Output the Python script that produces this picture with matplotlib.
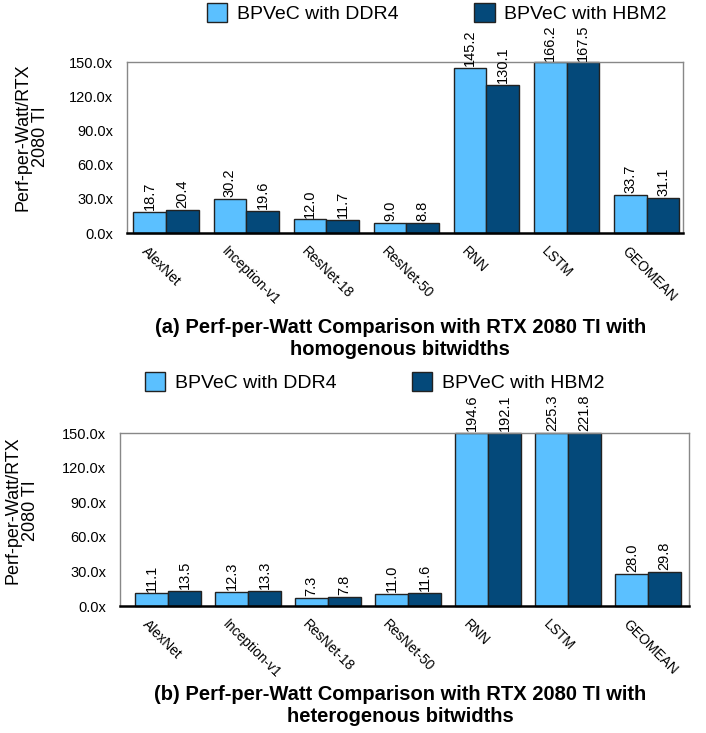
import numpy as np
import matplotlib
matplotlib.use('Agg')
import matplotlib.pyplot as plt
from matplotlib.patches import Patch

plt.rcParams['font.family'] = ['Liberation Sans', 'DejaVu Sans']

##DATA##
models = ['AlexNet', 'Inception-v1', 'ResNet-18', 'ResNet-50', 'RNN', 'LSTM', 'GEOMEAN']
series = ['BPVeC with DDR4', 'BPVeC with HBM2']

homo_ddr4 = [18.7, 30.2, 12.0, 9.0, 145.2, 166.2, 33.7]
homo_hbm2 = [20.4, 19.6, 11.7, 8.8, 130.1, 167.5, 31.1]

hetero_ddr4 = [11.1, 12.3, 7.3, 11.0, 194.6, 225.3, 28.0]
hetero_hbm2 = [13.5, 13.3, 7.8, 11.6, 192.1, 221.8, 29.8]

yticks = [0, 30, 60, 90, 120, 150]
ymax = 150

light = '#5BC0FF'
dark = '#04497A'

fig = plt.figure(figsize=(7.06, 7.33), dpi=100)


def draw_panel(ax, ddr4, hbm2, xlim):
    x = np.arange(len(models))
    w = 0.41
    for vals, off, col in [(ddr4, -w / 2, light), (hbm2, w / 2, dark)]:
        h = np.minimum(vals, ymax)
        ax.bar(x + off, h, w, color=col, edgecolor='#222222', linewidth=1.0, clip_on=False)
        for xi, hi, v in zip(x + off, h, vals):
            ax.text(xi, hi + 1.5, '%.1f' % v, rotation=90, ha='center', va='bottom',
                    fontsize=10.5, clip_on=False)
    ax.set_ylim(0, ymax)
    ax.set_xlim(*xlim)
    ax.set_yticks(yticks)
    ax.set_yticklabels(['%.1fx' % t for t in yticks], fontsize=10.5)
    ax.set_xticks(x - 0.225)
    ax.set_xticklabels(models, rotation=-45, ha='left', va='top', rotation_mode='anchor', fontsize=10)
    ax.tick_params(axis='both', length=0)
    ax.tick_params(axis='y', pad=10)
    ax.tick_params(axis='x', pad=8)
    for s in ['top', 'right', 'left']:
        ax.spines[s].set_color('#888888')
        ax.spines[s].set_linewidth(1.0)
    ax.spines['bottom'].set_color('black')
    ax.spines['bottom'].set_linewidth(1.8)


handles = [Patch(facecolor=light, edgecolor='#222222'), Patch(facecolor=dark, edgecolor='#222222')]
leg_kw = dict(loc='center', ncol=2, frameon=False, fontsize=14, columnspacing=3.9,
              handlelength=1.03, handleheight=1.1, handletextpad=0.5)

# (a) homogenous
ax1 = fig.add_axes([0.180, 0.682, 0.788, 0.233])
draw_panel(ax1, homo_ddr4, homo_hbm2, (-0.49, 6.46))
fig.text(0.045, 0.813, 'Perf-per-Watt/RTX\n2080 TI', rotation=90, ha='center', va='center',
         fontsize=13, linespacing=1.05)
fig.legend(handles, series, bbox_to_anchor=(0.619, 0.982), **leg_kw)
fig.text(0.567, 0.538, '(a) Perf-per-Watt Comparison with RTX 2080 TI with\nhomogenous bitwidths',
         ha='center', va='center', fontsize=14.5, fontweight='bold', linespacing=1.2)

# (b) heterogenous
ax2 = fig.add_axes([0.170, 0.173, 0.806, 0.236])
draw_panel(ax2, hetero_ddr4, hetero_hbm2, (-0.6, 6.51))
fig.text(0.031, 0.304, 'Perf-per-Watt/RTX\n2080 TI', rotation=90, ha='center', va='center',
         fontsize=13, linespacing=1.05)
fig.legend(handles, series, bbox_to_anchor=(0.531, 0.479), **leg_kw)
fig.text(0.567, 0.0375, '(b) Perf-per-Watt Comparison with RTX 2080 TI with\nheterogenous bitwidths',
         ha='center', va='center', fontsize=14.5, fontweight='bold', linespacing=1.2)

plt.savefig('out.png', dpi=100)
